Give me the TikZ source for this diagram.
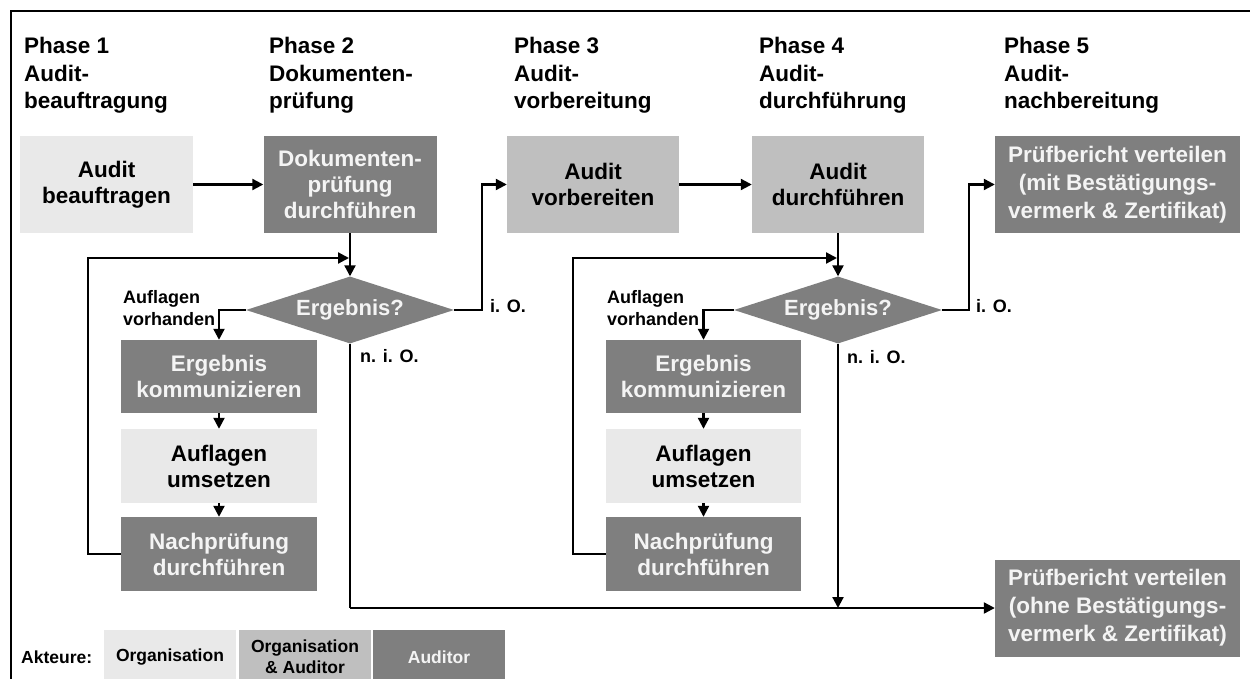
\documentclass[tikz,border=0pt]{standalone}
\usepackage{fontspec}
\setmainfont{Liberation Sans}
\usetikzlibrary{arrows.meta,shapes.geometric}
\definecolor{lightg}{HTML}{E9E9E9}
\definecolor{midg}{HTML}{BFBFBF}
\definecolor{darkg}{HTML}{7F7F7F}
\definecolor{paleT}{HTML}{F4F4F4}
\tikzset{
 box/.style={rectangle, inner sep=0pt, align=center, font=\bfseries\fontsize{22.5}{26}\selectfont},
 light/.style={box, fill=lightg, text=black},
 mid/.style={box, fill=midg, text=black},
 dark/.style={box, fill=darkg, text=paleT},
 dec/.style={diamond, fill=darkg, text=paleT, inner sep=0pt, minimum width=208pt, minimum height=67pt, aspect=3.1, font=\bfseries\fontsize{22}{26}\selectfont},
 conn/.style={line width=2.2pt, draw=black},
 arr/.style={conn, -{Triangle[length=11pt,width=11pt]}},
 phase/.style={anchor=north west, inner sep=0pt, align=left, font=\bfseries\fontsize{22.5}{27.5}\selectfont},
 lbl/.style={inner sep=0pt, font=\bfseries\fontsize{18}{22.5}\selectfont},
 leg/.style={inner sep=0pt, align=center, font=\bfseries\fontsize{17.5}{21}\selectfont},
}
\begin{document}
\begin{tikzpicture}[x=1pt,y=-1pt]
\useasboundingbox (0,0) rectangle (1250,679);
\clip (0,0) rectangle (1250,679);
\fill[white] (0,0) rectangle (1250,679);
\draw[line width=1.6pt] (11,11) rectangle (1265,695);

% phase headings
\node[phase] (p1) at (24,37) {Phase 1\\Audit-\\beauftragung};
\node[phase] (p2) at (269,37) {Phase 2\\Dokumenten-\\prüfung};
\node[phase] (p3) at (514,37) {Phase 3\\Audit-\\vorbereitung};
\node[phase] (p4) at (759,37) {Phase 4\\Audit-\\durchführung};
\node[phase] (p5) at (1004,37) {Phase 5\\Audit-\\nachbereitung};

% top row boxes
\node[light, minimum width=173pt, minimum height=97pt] (b1) at (106.5,184.5) {Audit\\beauftragen};
\node[dark, minimum width=173pt, minimum height=97pt] (b2) at (350,184.5) {Dokumenten-\\prüfung\\durchführen};
\node[mid, minimum width=172pt, minimum height=97pt] (b3) at (593,184.5) {Audit\\vorbereiten};
\node[mid, minimum width=172pt, minimum height=97pt] (b4) at (838,184.5) {Audit\\durchführen};
\node[dark, minimum width=245pt, minimum height=97pt, font=\bfseries\fontsize{22.5}{28}\selectfont] (b5) at (1117.5,184.5) {Prüfbericht verteilen\\(mit Bestätigungs-\\vermerk \& Zertifikat)};
\node[dark, minimum width=245pt, minimum height=97pt, font=\bfseries\fontsize{22.5}{28}\selectfont] (b6) at (1117.5,608) {Prüfbericht verteilen\\(ohne Bestätigungs-\\vermerk \& Zertifikat)};

% decisions
\node[dec] (d1) at (350,310) {Ergebnis?};
\node[dec] (d2) at (838,310) {Ergebnis?};

% loop boxes
\node[dark, minimum width=196pt, minimum height=73pt] (k1) at (219,376.5) {Ergebnis\\kommunizieren};
\node[light, minimum width=196pt, minimum height=74pt] (u1) at (219,466) {Auflagen\\umsetzen};
\node[dark, minimum width=196pt, minimum height=74pt] (n1) at (219,554) {Nachprüfung\\durchführen};
\node[dark, minimum width=195pt, minimum height=73pt] (k2) at (703.5,376.5) {Ergebnis\\kommunizieren};
\node[light, minimum width=195pt, minimum height=74pt] (u2) at (703.5,466) {Auflagen\\umsetzen};
\node[dark, minimum width=195pt, minimum height=74pt] (n2) at (703.5,554) {Nachprüfung\\durchführen};

% coordinates
\coordinate (c1) at (482,310);
\coordinate (c2) at (969,310);
\coordinate (r1) at (88,258);
\coordinate (m1) at (349,258);
\coordinate (r2) at (573,258);
\coordinate (m2) at (837,258);
\coordinate (e1) at (350,608);
\coordinate (e2) at (838,608);

% connectors
\draw[arr] (b1.east) -- (b2.west);
\draw[arr] (b3.east) -- (b4.west);
\draw[arr] (b2.south) -- (d1.north);
\draw[arr] (b4.south) -- (d2.north);
\draw[arr] (d1.east) -- (c1) |- (b3.west);
\draw[arr] (d2.east) -- (c2) |- (b5.west);
\draw[arr] (d1.west) -| (k1.north);
\draw[arr] (d2.west) -| (k2.north);
\draw[arr] (k1.south) -- (u1.north);
\draw[arr] (u1.south) -- (n1.north);
\draw[arr] (k2.south) -- (u2.north);
\draw[arr] (u2.south) -- (n2.north);
\draw[arr] (n1.west) -| (r1) -- (m1);
\draw[arr] (n2.west) -| (r2) -- (m2);
\draw[conn] (d1.south) -- (e1);
\draw[arr] (e1) -- (b6.west);
\draw[arr] (d2.south) -- (e2);

% labels
\node[lbl, anchor=base west] (io1) at (490,312) {i. O.};
\node[lbl, anchor=base west] (io2) at (976,312) {i. O.};
\node[lbl, anchor=base west] (nio1) at (360,362) {n. i. O.};
\node[lbl, anchor=base west] (nio2) at (847,363) {n. i. O.};
\node[lbl, anchor=north west, align=left] (av1) at (123,290) {Auflagen\\vorhanden};
\node[lbl, anchor=north west, align=left] (av2) at (607,290) {Auflagen\\vorhanden};

% legend
\node[leg, anchor=west] (akt) at (21,657) {Akteure:};
\node[leg, fill=lightg, minimum width=132pt, minimum height=54pt] (lg1) at (170,657) {Organisation};
\node[leg, fill=midg, minimum width=132pt, minimum height=54pt] (lg2) at (305,657) {Organisation\\\& Auditor};
\node[leg, fill=darkg, text=paleT, minimum width=132pt, minimum height=54pt] (lg3) at (439,657) {Auditor};
\end{tikzpicture}
\end{document}
